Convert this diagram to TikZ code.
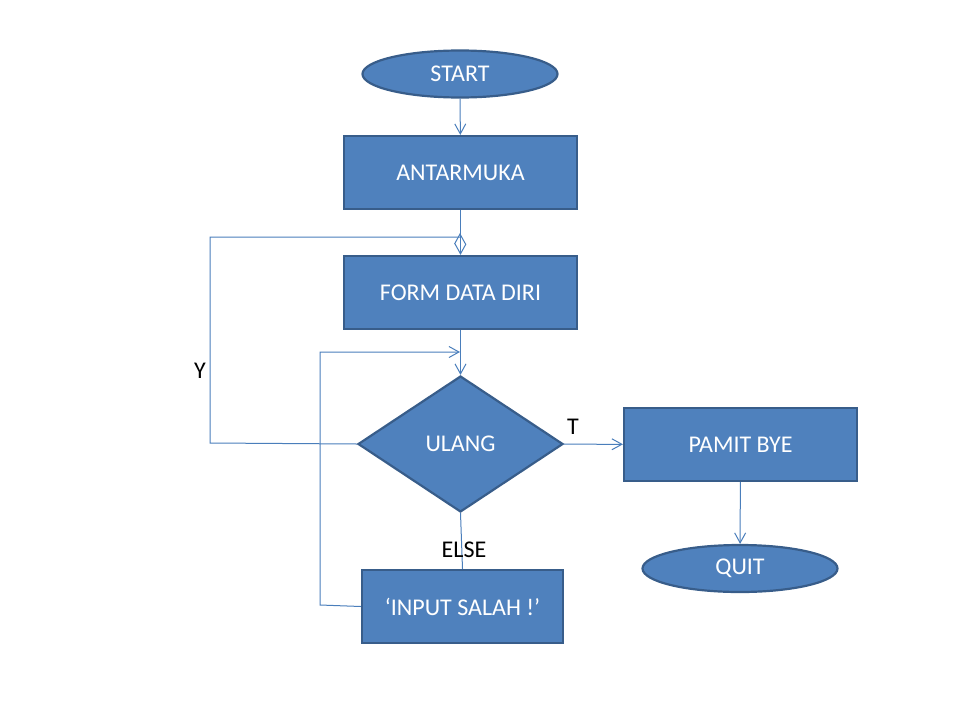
\documentclass[tikz,border=0pt]{standalone}
\usepackage{fontspec}
\setmainfont{Carlito}
\usetikzlibrary{shapes.geometric,arrows.meta}
\definecolor{boxfill}{HTML}{4F81BD}
\definecolor{boxline}{HTML}{385D8A}
\definecolor{conn}{HTML}{4A7EBB}
\tikzset{
  base/.style={fill=boxfill,draw=boxline,line width=2.2pt,text=white,font=\fontsize{24}{28}\selectfont,inner sep=0pt},
  procbox/.style={base,rectangle,minimum width=233pt,minimum height=73pt},
  term/.style={base,ellipse,minimum width=195pt,minimum height=47pt},
  decision/.style={base,diamond,minimum width=205pt,minimum height=136pt},
  conn/.style={draw=conn,line width=1pt},
  arr/.style={conn,-{Straight Barb[length=10pt,width=11pt,line width=1pt]}},
  lbl/.style={font=\fontsize{24}{28}\selectfont,text=black}
}
\begin{document}
\begin{tikzpicture}[x=1pt,y=-1pt]
\useasboundingbox (0,0) rectangle (960,720);
\node[term] (start) at (460,74) {START};
\node[procbox] (antar) at (460.5,172.5) {ANTARMUKA};
\node[procbox] (form) at (460.5,292.5) {FORM DATA DIRI};
\node[decision] (ulang) at (460.5,444) {ULANG};
\node[procbox] (pamit) at (740.5,444.5) {PAMIT BYE};
\node[term] (quit) at (740,568.5) {QUIT};
\node[procbox,minimum width=201pt] (salah) at (462.5,606.5) {‘INPUT SALAH !’};
\coordinate (yl) at (210,443);
\coordinate (yt) at (210,237);
\coordinate (yr) at (460,237);
\coordinate (yup) at (460,233);
\coordinate (yr2) at (460,250);
\coordinate (el) at (320,605);
\coordinate (et) at (320,352);
\coordinate (er) at (460,352);
\draw[arr] (start) -- (antar);
\draw[arr] (antar) -- (form);
\draw[arr] (form) -- (ulang);
\draw[arr] (ulang) -- (pamit);
\draw[arr] (pamit) -- (quit);
\draw[conn] (ulang.south) -- (salah.north);
\draw[conn] (ulang.west) -- (yl) -- (yt) -- (yr);
\draw[arr] (yr2) -- (yup);
\draw[arr] (salah.west) -- (el) -- (et) -- (er);
\node[lbl] (ylab) at (200,371) {Y};
\node[lbl] (tlab) at (573,427) {T};
\node[lbl] (elab) at (464,550) {ELSE};
\end{tikzpicture}
\end{document}
